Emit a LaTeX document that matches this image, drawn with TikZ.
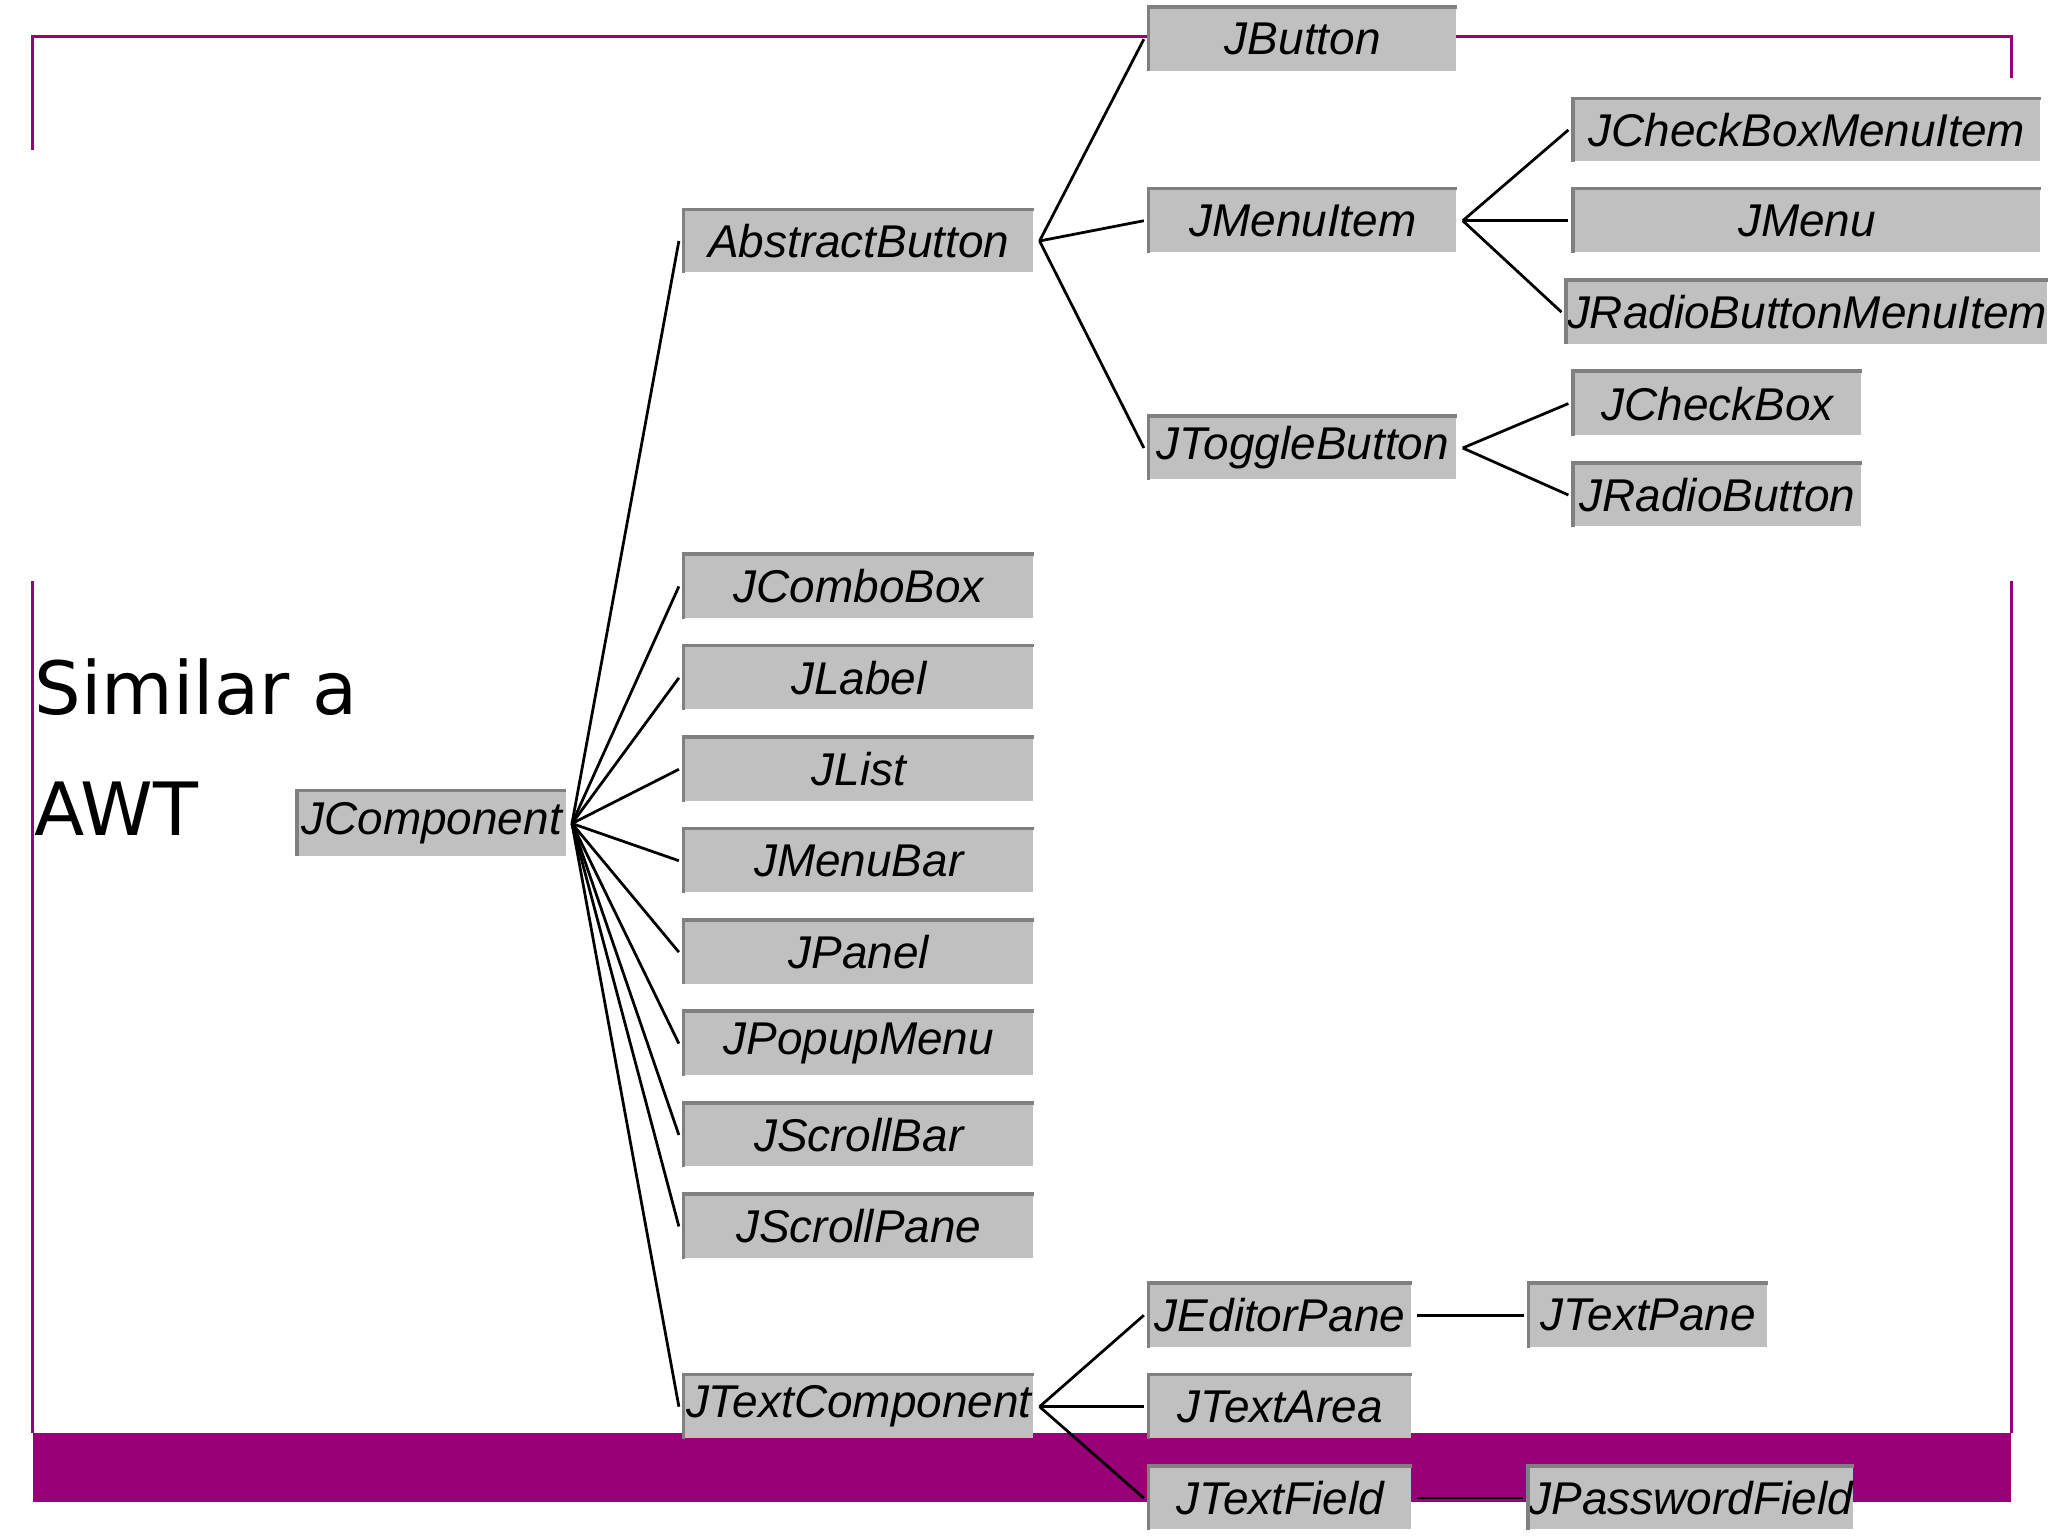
\documentclass[tikz,border=0pt]{standalone}
\usepackage{fontspec}
\setmainfont{DejaVu Sans}
\newfontfamily\boxfont{Liberation Sans}
\definecolor{frame}{HTML}{990077}
\definecolor{boxgray}{HTML}{C0C0C0}
\definecolor{boxedge}{HTML}{808080}
\tikzset{
 box/.style={fill=boxgray, draw=none, inner sep=0pt, font=\boxfont\itshape\fontsize{10}{12}\selectfont},
 boxedgeline/.style={draw=boxedge, line width=0.8pt},
 conn/.style={draw=black, line width=0.6pt},
 frameline/.style={draw=frame, line width=0.8pt}
}
\newcommand\bx[6]{\node[box, minimum width={(#4-#2)*0.01cm}, minimum height={(#5-#3)*0.01cm}] (#1) at ({(#2+#4)/2},{(#3+#5)/2}) {#6};
 \draw[boxedgeline] (#1.south west) -- (#1.north west) -- (#1.north east);}
\begin{document}
\begin{tikzpicture}[x=0.01cm,y=-0.01cm]
\useasboundingbox (0,0) rectangle (1568,1176);
\fill[white] (0,0) rectangle (1568,1176);
% frame
\draw[frameline] (25,115) -- (25,28) -- (1540,28) -- (1540,60);
\draw[frameline] (25,445) -- (25,1097);
\draw[frameline] (1540,445) -- (1540,1097);
\fill[frame] (25,1097) rectangle (1540,1150);
% title
\node[anchor=west, font=\fontsize{16}{20}\selectfont] (t1) at (14,526) {Similar a};
\node[anchor=west, font=\fontsize{16}{20}\selectfont] (t2) at (14,619) {AWT};
% boxes
\bx{jbutton}{880}{6}{1115}{54}{JButton}
\bx{abstract}{524}{161}{791}{208}{AbstractButton}
\bx{jmenuitem}{880}{145}{1115}{193}{JMenuItem}
\bx{jcbmi}{1205}{76}{1562}{123}{JCheckBoxMenuItem}
\bx{jmenu}{1205}{145}{1562}{193}{JMenu}
\bx{jrbmi}{1205}{215}{1562}{263}{JRadioButtonMenuItem}
\bx{jtoggle}{880}{319}{1115}{367}{JToggleButton}
\bx{jcheckbox}{1205}{285}{1425}{333}{JCheckBox}
\bx{jradio}{1205}{355}{1425}{403}{JRadioButton}
\bx{jcombo}{524}{425}{791}{473}{JComboBox}
\bx{jlabel}{524}{495}{791}{543}{JLabel}
\bx{jlist}{524}{565}{791}{613}{JList}
\bx{jmenubar}{524}{635}{791}{683}{JMenuBar}
\bx{jpanel}{524}{705}{791}{753}{JPanel}
\bx{jpopup}{524}{775}{791}{823}{JPopupMenu}
\bx{jscrollbar}{524}{845}{791}{893}{JScrollBar}
\bx{jscrollpane}{524}{915}{791}{963}{JScrollPane}
\bx{jtextcomp}{524}{1053}{791}{1101}{JTextComponent}
\bx{jcomponent}{228}{606}{433}{655}{JComponent}
\bx{jeditor}{880}{983}{1080}{1031}{JEditorPane}
\bx{jtextpane}{1171}{983}{1353}{1031}{JTextPane}
\bx{jtextarea}{880}{1053}{1080}{1101}{JTextArea}
\bx{jtextfield}{880}{1123}{1080}{1171}{JTextField}
\bx{jpassword}{1171}{1123}{1418}{1171}{JPasswordField}
% connectors
\foreach \c in {abstract,jcombo,jlabel,jlist,jmenubar,jpanel,jpopup,jscrollbar,jscrollpane,jtextcomp}
  \draw[conn] ([xshift=1.2pt]jcomponent.east) -- ([xshift=-1pt]\c.west);
\foreach \c in {jbutton,jmenuitem,jtoggle}
  \draw[conn] ([xshift=1.2pt]abstract.east) -- ([xshift=-1pt]\c.west);
\foreach \c in {jcbmi,jmenu,jrbmi}
  \draw[conn] ([xshift=1.2pt]jmenuitem.east) -- ([xshift=-1pt]\c.west);
\foreach \c in {jcheckbox,jradio}
  \draw[conn] ([xshift=1.2pt]jtoggle.east) -- ([xshift=-1pt]\c.west);
\foreach \c in {jeditor,jtextarea,jtextfield}
  \draw[conn] ([xshift=1.2pt]jtextcomp.east) -- ([xshift=-1pt]\c.west);
\draw[conn] ([xshift=1.2pt]jeditor.east) -- ([xshift=-1pt]jtextpane.west);
\draw[conn] ([xshift=1.2pt]jtextfield.east) -- ([xshift=-1pt]jpassword.west);
\end{tikzpicture}
\end{document}
